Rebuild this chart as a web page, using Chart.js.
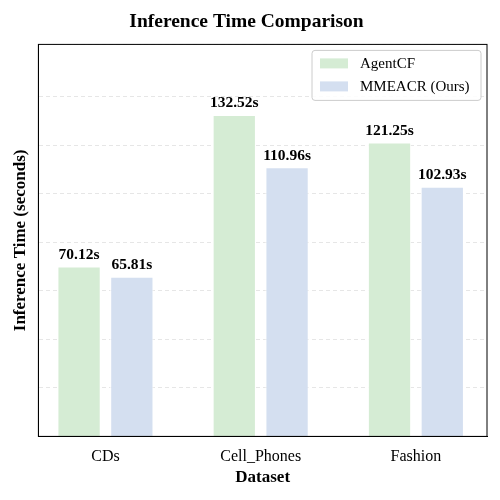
<!DOCTYPE html>
<html><head><script src="https://cdn.jsdelivr.net/npm/chart.js@4"></script>
<style>body{margin:0;background:#fff}#w{width:500px;height:500px}</style></head>
<body><div id="w"><canvas id="c"></canvas></div>
<script>
const categories=["CDs","Cell_Phones","Fashion"];
const agentCF=[70.12,132.52,121.25];
const mmeacr=[65.81,110.96,102.93];
const seriesNames=["AgentCF","MMEACR (Ours)"];
const colors=["#d5ecd4","#d4dff0"];
const F="'Liberation Serif', 'Times New Roman', serif";
const yMax=Math.max(...agentCF,...mmeacr)*1.22;
const pts=a=>a.map((v,i)=>({x:i,y:v}));
const extra={id:'extra',afterDatasetsDraw(ch){
 const ctx=ch.ctx;ctx.save();
 ctx.font="bold 15.5px "+F;ctx.fillStyle="#000";ctx.textAlign="center";ctx.textBaseline="bottom";
 ch.data.datasets.forEach((d,i)=>ch.getDatasetMeta(i).data.forEach((b,j)=>ctx.fillText(d.data[j].y.toFixed(2)+"s",b.x,b.y-4)));
 const a=ch.chartArea;const x0=a.right-175,y0=a.top+6,w=169,h=50;
 ctx.fillStyle="rgba(255,255,255,0.85)";ctx.strokeStyle="#ccc";ctx.lineWidth=1;
 ctx.beginPath();ctx.roundRect(x0,y0,w,h,3);ctx.fill();ctx.stroke();
 ctx.font="15px "+F;ctx.textAlign="left";ctx.textBaseline="middle";
 seriesNames.forEach((n,i)=>{const yy=y0+13+i*23;ctx.fillStyle=colors[i];ctx.fillRect(x0+8,yy-5,28,10);ctx.fillStyle="#000";ctx.fillText(n,x0+48,yy+1);});
 ctx.restore();}};
const frame={id:'frame',afterDraw(ch){const a=ch.chartArea,c=ch.ctx;c.save();c.strokeStyle="#000";c.lineWidth=1;c.strokeRect(a.left,a.top,a.right-a.left,a.bottom-a.top);c.restore();}};
new Chart(document.getElementById('c'),{type:'bar',
data:{datasets:[
 {label:seriesNames[0],data:pts(agentCF),backgroundColor:colors[0],borderColor:"#fff",borderWidth:1,barPercentage:0.82,categoryPercentage:0.68},
 {label:seriesNames[1],data:pts(mmeacr),backgroundColor:colors[1],borderColor:"#fff",borderWidth:1,barPercentage:0.82,categoryPercentage:0.68}]},
options:{responsive:true,maintainAspectRatio:false,animation:false,
 layout:{padding:{left:6,right:13,top:4,bottom:8}},
 plugins:{legend:{display:false},tooltip:{enabled:false},
  title:{display:true,text:"Inference Time Comparison",color:"#000",font:{family:F,size:19.5,weight:'bold'},padding:{top:6,bottom:11}}},
 scales:{
  x:{type:'linear',min:-0.432,max:2.458,offset:false,grid:{display:false},border:{color:"#000"},
   afterBuildTicks:s=>{s.ticks=categories.map((_,i)=>({value:i}));},
   ticks:{color:"#000",font:{family:F,size:16},callback:v=>categories[v]},
   title:{display:true,text:"Dataset",color:"#000",font:{family:F,size:17,weight:'bold'},padding:{top:-2}}},
  y:{min:0,max:yMax,grid:{color:"#e6e6e6",drawTicks:false},border:{color:"#000",dash:[4,3]},
   ticks:{stepSize:20,display:false},
   title:{display:true,text:"Inference Time (seconds)",color:"#000",font:{family:F,size:17,weight:'bold'},padding:{bottom:8}}}}},
plugins:[extra,frame]});
</script></body></html>
